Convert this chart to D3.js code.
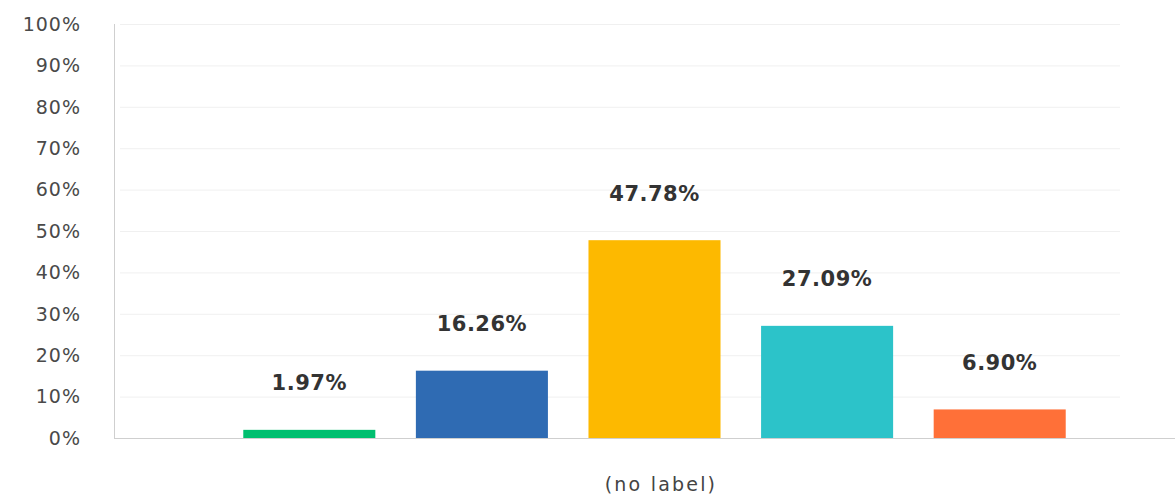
<!DOCTYPE html>
<html>
<head>
<meta charset="utf-8">
<script src="https://cdn.jsdelivr.net/npm/d3@7"></script>
<style>
  html, body { margin: 0; padding: 0; background: #fff; }
  #container { width: 1175px; height: 501px; }
</style>
</head>
<body>
<div id="container"></div>
<script>
const categories = ['a', 'b', 'c', 'd', 'e'];
const values = [1.97, 16.26, 47.78, 27.09, 6.90];
const colors = ['#00bf6f', '#2f6bb3', '#fdb900', '#2cc3c9', '#ff7038'];
const yTicks = [0, 10, 20, 30, 40, 50, 60, 70, 80, 90, 100];
const xAxisLabel = '(no label)';

const width = 1175;
const height = 501;
const font = '"DejaVu Sans", "Noto Sans", sans-serif';

const svg = d3.select('#container').append('svg')
    .attr('width', width)
    .attr('height', height);

const y = d3.scaleLinear().domain([0, 100]).range([438, 24]);
const x = d3.scaleBand()
    .domain(categories)
    .range([223, 1086])
    .paddingInner(0.235)
    .paddingOuter(0.1175);

// gridlines
svg.append('g')
    .selectAll('line')
    .data(yTicks.filter(d => d > 0))
    .enter()
    .append('line')
    .attr('x1', 120)
    .attr('x2', 1120)
    .attr('y1', d => y(d) + 0.5)
    .attr('y2', d => y(d) + 0.5)
    .attr('stroke', '#f0f0f0')
    .attr('stroke-width', 1);

// y tick labels
svg.append('g')
    .selectAll('text')
    .data(yTicks)
    .enter()
    .append('text')
    .attr('x', 81)
    .attr('y', d => y(d))
    .attr('dy', '0.36em')
    .attr('text-anchor', 'end')
    .attr('font-family', font)
    .attr('font-size', 19)
    .attr('letter-spacing', 1)
    .attr('fill', '#4a4a4a')
    .text(d => d + '%');

// axes lines
svg.append('line')
    .attr('x1', 114.5).attr('x2', 114.5)
    .attr('y1', y(100)).attr('y2', y(0))
    .attr('stroke', '#cfcfcf');
svg.append('line')
    .attr('x1', 114).attr('x2', width)
    .attr('y1', y(0) + 0.5).attr('y2', y(0) + 0.5)
    .attr('stroke', '#cfcfcf');

// bars
svg.append('g')
    .selectAll('rect')
    .data(values)
    .enter()
    .append('rect')
    .attr('x', (d, i) => x(categories[i]))
    .attr('width', x.bandwidth())
    .attr('y', d => y(d))
    .attr('height', d => y(0) - y(d))
    .attr('fill', (d, i) => colors[i]);

// value labels
svg.append('g')
    .selectAll('text')
    .data(values)
    .enter()
    .append('text')
    .attr('x', (d, i) => x(categories[i]) + x.bandwidth() / 2)
    .attr('y', d => y(d) - 47)
    .attr('dy', '0.36em')
    .attr('text-anchor', 'middle')
    .attr('font-family', font)
    .attr('font-weight', 'bold')
    .attr('font-size', 21)
    .attr('letter-spacing', 0.5)
    .attr('fill', '#333')
    .text(d => d.toFixed(2) + '%');

// x axis title
svg.append('text')
    .attr('x', 661)
    .attr('y', 484)
    .attr('dy', '0.36em')
    .attr('text-anchor', 'middle')
    .attr('font-family', font)
    .attr('font-size', 19)
    .attr('letter-spacing', 2.2)
    .attr('fill', '#444')
    .text(xAxisLabel);
</script>
</body>
</html>
